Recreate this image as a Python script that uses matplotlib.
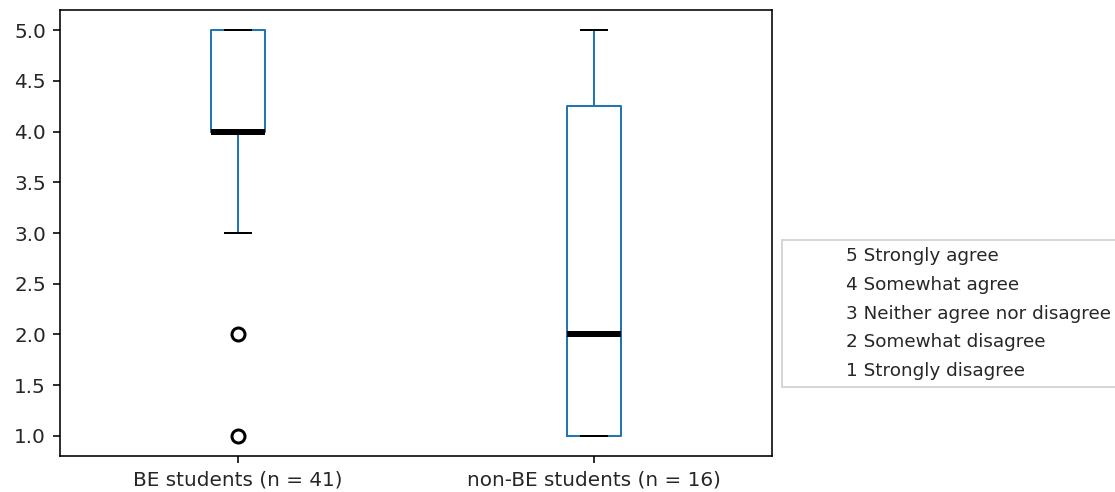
import numpy as np
import matplotlib
matplotlib.use("Agg")
import matplotlib.pyplot as plt

# Response levels (Likert scale) and counts of students per level in each group
levels = [1, 2, 3, 4, 5]
be_counts = [1, 1, 4, 16, 19]       # BE students, n = 41
nonbe_counts = [5, 4, 2, 1, 4]      # non-BE students, n = 16
group_labels = ["BE students (n = 41)", "non-BE students (n = 16)"]
legend_labels = ["5 Strongly agree", "4 Somewhat agree",
                 "3 Neither agree nor disagree", "2 Somewhat disagree",
                 "1 Strongly disagree"]

be_data = np.repeat(levels, be_counts)
nonbe_data = np.repeat(levels, nonbe_counts)

text_color = "#262626"
plt.rcParams["text.color"] = text_color
plt.rcParams["xtick.labelcolor"] = text_color
plt.rcParams["ytick.labelcolor"] = text_color

DPI = 144
fig = plt.figure(figsize=(1115 / DPI, 492 / DPI), dpi=DPI)
W, H = 1115, 492
ax = fig.add_axes([60 / W, 1 - 456 / H, (772 - 60) / W, (456 - 10) / H])

blue = "#1f77b4"
ax.boxplot([be_data, nonbe_data],
           boxprops=dict(color=blue, linewidth=1),
           whiskerprops=dict(color=blue, linewidth=1),
           capprops=dict(color="black", linewidth=1),
           medianprops=dict(color="black", linewidth=3),
           flierprops=dict(marker="o", markerfacecolor="none",
                           markeredgecolor="black", markersize=6.5,
                           markeredgewidth=1.5))
ax.set_xticks([1, 2])
ax.set_xticklabels(group_labels)
ax.tick_params(labelsize=10)

for lab in legend_labels:
    ax.plot([], [], " ", label=lab)
ax.legend(loc="upper left", bbox_to_anchor=(782 / W, 1 - 240 / H),
          bbox_transform=fig.transFigure, borderaxespad=0, fontsize=9.2,
          labelspacing=0.58, handlelength=2.3,
          fancybox=False, edgecolor="#cccccc")

fig.savefig("out.png", dpi=DPI)
